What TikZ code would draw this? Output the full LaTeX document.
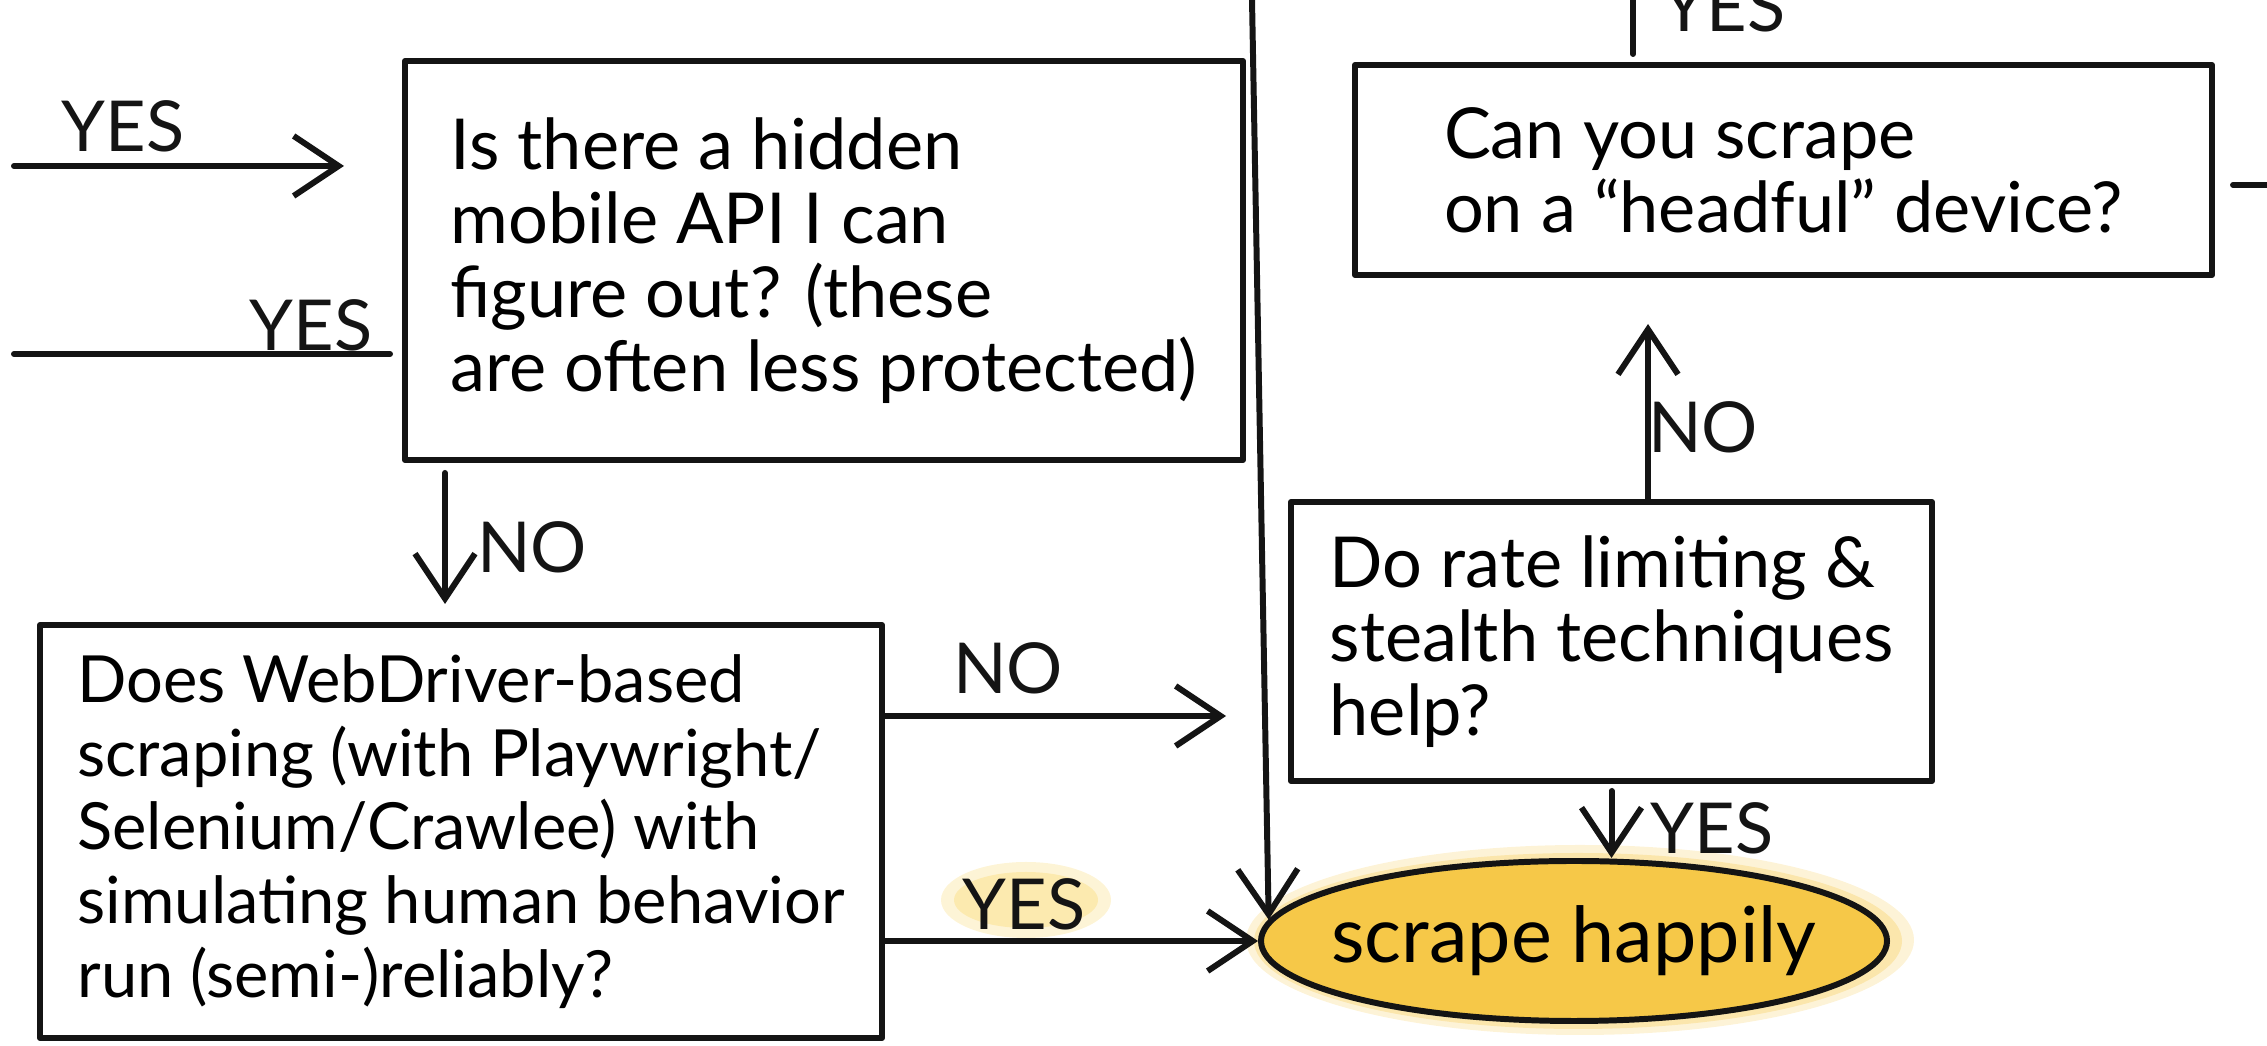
\documentclass[tikz,border=0pt]{standalone}
\usepackage{fontspec}
\setmainfont{Lato}
\usetikzlibrary{arrows.meta,shapes.geometric,calc}

\definecolor{ink}{RGB}{20,20,20}
\definecolor{marker}{RGB}{246,200,72}
\definecolor{markerlight}{RGB}{250,218,118}

\tikzset{
  pen/.style={line width=1.7pt, draw=ink, line cap=round, line join=round},
  question/.style={pen, rectangle, align=left, inner sep=0pt,
    font=\fontsize{20}{21}\selectfont},
  flow/.style={pen, -{Straight Barb[length=4.5mm,width=6mm]}},
  answer/.style={font=\fontsize{20}{22}\selectfont, text=ink, inner sep=0pt},
}

\begin{document}
\begin{tikzpicture}
\useasboundingbox (0,0) rectangle (22.67,10.46);

% marker glow behind the final state and the highlighted answer
\fill[marker, opacity=0.22] (15.80,1.06) ellipse (3.34 and 0.95);
\fill[marker, opacity=0.30] (15.78,1.05) ellipse (3.24 and 0.88);
\fill[markerlight, opacity=0.30] (10.26,1.46) ellipse (0.85 and 0.38);
\fill[markerlight, opacity=0.40] (10.26,1.46) ellipse (0.72 and 0.28);

% questions
\node[question, minimum width=8.38cm, minimum height=3.99cm] (api) at (8.24,7.855)
  {Is there a hidden\\mobile API I can\\figure out? (these\\are often less protected)};
\node[question, minimum width=8.42cm, minimum height=4.13cm,
  font=\fontsize{18.5}{21}\selectfont] (web) at (4.61,2.145)
  {Does WebDriver-based\\scraping (with Playwright/\\Selenium/Crawlee) with\\simulating human behavior\\run (semi-)reliably?};
\node[question, minimum width=6.41cm, minimum height=2.79cm] (rate) at (16.115,4.045)
  {Do rate limiting \&\\stealth techniques\\help?};
\node[question, minimum width=8.57cm, minimum height=2.10cm] (headful) at (17.835,8.76)
  {Can you scrape\\on a ``headful'' device?};

% final state
\node[pen, ellipse, fill=marker, inner sep=0pt, minimum width=6.26cm, minimum height=1.6cm,
  font=\fontsize{22}{24}\selectfont] (ell) at (15.74,1.05)
  {\makebox[3cm][c]{scrape happily}};

% answers
\node[answer] (yes1) at (1.23,9.20) {YES};
\node[answer] (yes2) at (3.11,7.21) {YES};
\node[answer] (no1) at (5.32,4.99) {NO};
\node[answer] (no2) at (10.08,3.78) {NO};
\node[answer] (yes3) at (10.24,1.42) {YES};
\node[answer] (yes4) at (17.12,2.18) {YES};
\node[answer] (no3) at (17.03,6.19) {NO};
\node[answer, anchor=base] (yes5) at (17.24,10.14) {YES};

% free ends of the connectors
\coordinate (in1) at (0.14,8.80);
\coordinate (in2) at (0.14,6.92);
\coordinate (nox) at (4.45,0);
\coordinate (noy) at (0,3.30);
\coordinate (drop) at (12.52,10.46);
\coordinate (upx) at (16.48,0);
\coordinate (topin) at (16.33,10.46);
\coordinate (rightout) at (22.67,8.61);

% connectors
\draw[flow, shorten >=0.58cm] (in1) -- (api.west |- in1);
\draw[pen, shorten >=0.12cm] (in2) -- (api.west |- in2);
\draw[flow, shorten <=0.1cm, shorten >=0.18cm] (api.south -| nox) -- (web.north -| nox);
\draw[flow, shorten >=0.62cm] (web.east |- noy) -- (rate.west |- noy);
\draw[flow] (web.east |- ell.west) -- (ell.west);
\draw[flow] (drop) -- (ell.176);
\draw[flow, shorten <=0.07cm] (rate.south) -- (rate.south |- ell.north);
\draw[flow, shorten >=0.46cm] (rate.north -| upx) -- (headful.south -| upx);
\draw[pen, shorten >=0.08cm] (topin) -- (topin |- headful.north);
\draw[pen, shorten <=0.18cm] (headful.east |- rightout) -- (rightout);
\end{tikzpicture}
\end{document}
